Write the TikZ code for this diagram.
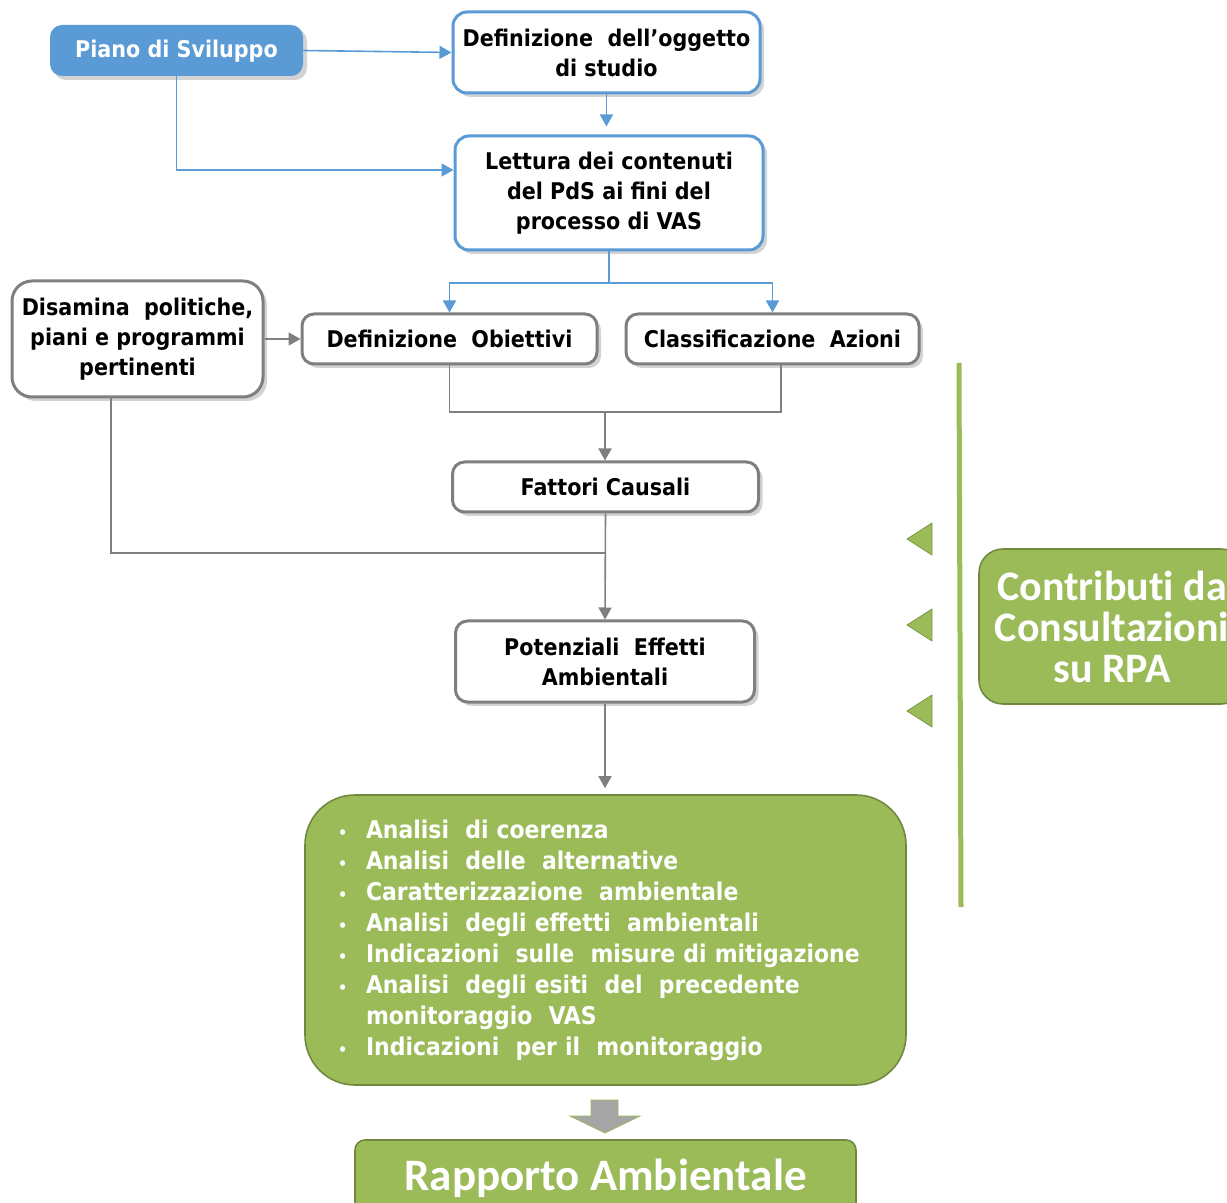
\documentclass[tikz,border=0pt]{standalone}
\usepackage{fontspec}
\setmainfont{DejaVu Sans Condensed}
\newfontfamily\calib{Carlito}[Ligatures=NoCommon]
\usetikzlibrary{arrows.meta,shadows}
\definecolor{pdsblue}{HTML}{5B9BD5}
\definecolor{boxgray}{HTML}{7F7F7F}
\definecolor{vasgreen}{HTML}{9BBB59}
\definecolor{vasgreendark}{HTML}{71893F}
\definecolor{blockgray}{HTML}{A5A5A5}
\begin{document}
\begin{tikzpicture}[x=0.5pt,y=-0.5pt,
    every node/.style={font=\bfseries\fontsize{11.5}{15}\selectfont, align=center, inner sep=0pt},
    boxshadow/.style={drop shadow={shadow xshift=2pt,shadow yshift=-2pt,opacity=0.35}},
    pdsbox/.style={fill=pdsblue, text=white, rounded corners=6pt, boxshadow},
    bluebox/.style={draw=pdsblue, line width=1.5pt, fill=white, rounded corners=7pt, boxshadow},
    graybox/.style={draw=boxgray, line width=1.5pt, fill=white, rounded corners=6pt, boxshadow},
    greenbox/.style={draw=vasgreendark, line width=0.8pt, fill=vasgreen, text=white},
    blueline/.style={draw=pdsblue, line width=0.8pt},
    bluearrow/.style={blueline, -{Triangle[length=6pt,width=6.5pt]}},
    grayline/.style={draw=boxgray, line width=0.8pt},
    grayarrow/.style={grayline, -{Triangle[length=6pt,width=6.5pt]}}]
\clip (0,0) rectangle (1227,1203);

\node[pdsbox, minimum width=126.5pt, minimum height=25.5pt, text depth=1.5pt] (piano) at (176.5,50.5) {Piano di Sviluppo};
\node[bluebox, minimum width=153.5pt, minimum height=40.5pt] (defogg) at (606.5,52.5) {Definizione~ dell’oggetto\\di studio};
\node[bluebox, minimum width=154pt, minimum height=57pt] (lettura) at (609,193) {Lettura dei contenuti\\del PdS ai fini del\\processo di VAS};
\node[graybox, rounded corners=10pt, minimum width=125.5pt, minimum height=58pt] (disamina) at (137.5,339) {Disamina~ politiche,\\piani e programmi\\pertinenti};
\node[graybox, minimum width=147.5pt, minimum height=25pt] (defob) at (449.5,339) {Definizione~ Obiettivi};
\node[graybox, minimum width=146.5pt, minimum height=25pt] (classaz) at (772.5,339) {Classificazione~ Azioni};
\node[graybox, minimum width=153pt, minimum height=25pt] (fattori) at (605.5,487) {Fattori Causali};
\node[graybox, minimum width=149.5pt, minimum height=40.5pt] (potenz) at (605,661.5) {Potenziali~ Effetti\\Ambientali};
\node[greenbox, rounded corners=25pt, text width=267.5pt, inner xsep=16.5pt, minimum height=145pt, align=left,
      font=\bfseries\fontsize{12.2}{15.5}\selectfont] (analisi) at (605.5,940)
  {\makebox[14pt][l]{\fontsize{8}{8}\selectfont\textbullet}Analisi~ di coerenza\\
   \makebox[14pt][l]{\fontsize{8}{8}\selectfont\textbullet}Analisi~ delle~ alternative\\
   \makebox[14pt][l]{\fontsize{8}{8}\selectfont\textbullet}Caratterizzazione~ ambientale\\
   \makebox[14pt][l]{\fontsize{8}{8}\selectfont\textbullet}Analisi~ degli effetti~ ambientali\\
   \makebox[14pt][l]{\fontsize{8}{8}\selectfont\textbullet}Indicazioni~ sulle~ misure di mitigazione\\
   \makebox[14pt][l]{\fontsize{8}{8}\selectfont\textbullet}Analisi~ degli esiti~ del~ precedente\\
   \hspace*{14pt}monitoraggio~ VAS\\
   \makebox[14pt][l]{\fontsize{8}{8}\selectfont\textbullet}Indicazioni~ per il~ monitoraggio};
\node[greenbox, rounded corners=5pt, minimum width=250.5pt, minimum height=38pt,
      font=\calib\bfseries\fontsize{22.5}{24}\selectfont] (rapporto) at (605.5,1178) {Rapporto Ambientale};
\node[greenbox, rounded corners=12pt, minimum width=133pt, minimum height=77.5pt,
      font=\calib\bfseries\fontsize{21}{20.5}\selectfont] (contrib) at (1112,626.5) {Contributi da\\Consultazioni\\su RPA};

\coordinate (split) at (609,283);
\coordinate (merge) at (605,412);
\coordinate (join) at (605,553);

\draw[bluearrow] (piano.east) -- (defogg.west);
\draw[bluearrow] (piano.south) |- ([yshift=11.5pt]lettura.west);
\draw[bluearrow, shorten >=4pt] (defogg.south) -- (defogg.south |- lettura.north);
\draw[blueline] (lettura.south) -- (split);
\draw[bluearrow] (split) -| (defob.north);
\draw[bluearrow] (split) -| (classaz.north);
\draw[grayarrow] (disamina.east) -- (defob.west);
\draw[grayline] (defob.south) |- (merge);
\draw[grayline] (classaz.south -| 781,0) |- (merge);
\draw[grayarrow] (merge) -- (merge |- fattori.north);
\draw[grayline] (disamina.south -| 111,0) |- (join);
\draw[grayarrow] (fattori.south) -- (potenz.north);
\draw[grayarrow, shorten >=3pt] (potenz.south) -- (potenz.south |- analisi.north);

\draw[vasgreen, line width=2.5pt] (959,363) -- (961,907);
\foreach \ty in {539,625,711}
  \filldraw[fill=vasgreen, draw=vasgreendark!70!vasgreen, line width=0.4pt] (932,\ty-16) -- (907,\ty) -- (932,\ty+16) -- cycle;
\filldraw[fill=blockgray, draw=vasgreen, line width=0.4pt] (591,1100) -- (618,1100) -- (618,1116) -- (640,1116) -- (605,1133) -- (570,1116) -- (591,1116) -- cycle;
\end{tikzpicture}
\end{document}
